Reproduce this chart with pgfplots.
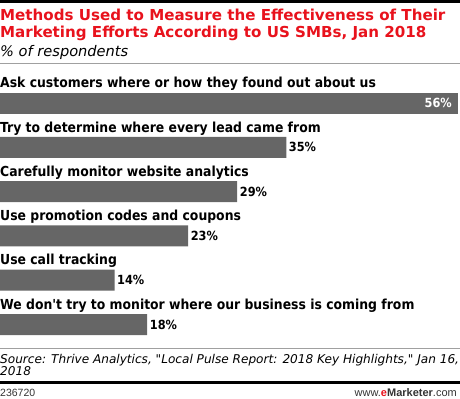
\documentclass[border=0pt]{standalone}
\usepackage{pgfplots}
\pgfplotsset{compat=1.18}
\usepackage{fontspec}
\setmainfont{DejaVu Sans}
\newfontfamily\cond{DejaVu Sans Condensed}
\newfontfamily\arial{Liberation Sans}
\definecolor{emred}{RGB}{232,18,28}
\definecolor{bargray}{RGB}{102,102,102}
\definecolor{rulegray}{RGB}{160,160,160}
\begin{document}
\begin{tikzpicture}
\path[use as bounding box] (0,0) rectangle (460bp,-399bp);
\fill[black] (0,0) rectangle (460bp,-2.7bp);
\node[anchor=base west, inner sep=0, text=emred, font=\bfseries\fontsize{15.1bp}{17bp}\selectfont] at (0,-20.7bp) {Methods Used to Measure the Effectiveness of Their};
\node[anchor=base west, inner sep=0, text=emred, font=\bfseries\fontsize{15.1bp}{17bp}\selectfont] at (0,-37.7bp) {Marketing Efforts According to US SMBs, Jan 2018};
\node[anchor=base west, inner sep=0, font=\itshape\fontsize{14.6bp}{16bp}\selectfont] at (0,-56.7bp) {\% of respondents};
\draw[rulegray, line width=1bp] (0,-63.5bp) -- (460bp,-63.5bp);
\begin{axis}[at={(0,-80.85bp)}, anchor=north west, scale only axis,
  width=458bp, height=265.8bp, xmin=0, xmax=56, ymin=-0.5, ymax=5.5,
  y dir=reverse, hide axis, xbar, bar width=21bp, bar shift=0pt, clip=false,
  /pgf/number format/assume math mode=true,
  nodes near coords={\pgfmathprintnumber{\pgfplotspointmeta}\%},
  point meta=x,
  nodes near coords style={font=\cond\bfseries\fontsize{12.6bp}{15bp}\selectfont, inner sep=2.5bp}]
\addplot[fill=bargray, draw=none, nodes near coords style={anchor=west}] coordinates {(35,1) (29,2) (23,3) (14,4) (18,5)};
\addplot[fill=bargray, draw=none, nodes near coords style={anchor=east, text=white, xshift=-3.5bp}] coordinates {(56,0)};
\end{axis}
\begin{scope}[every node/.style={anchor=base west, inner sep=0, font=\cond\bfseries\fontsize{13.8bp}{15bp}\selectfont}]
\node at (0,-87.5bp) {Ask customers where or how they found out about us};
\node at (0,-132bp) {Try to determine where every lead came from};
\node at (0,-176.3bp) {Carefully monitor website analytics};
\node at (0,-220.4bp) {Use promotion codes and coupons};
\node at (0,-264.7bp) {Use call tracking};
\node at (0,-309bp) {We don\textquotesingle t try to monitor where our business is coming from};
\end{scope}
\draw[rulegray, line width=1bp] (0,-348bp) -- (460bp,-348bp);
\node[anchor=base west, inner sep=0, font=\itshape\fontsize{12.1bp}{14bp}\selectfont] at (0,-363bp) {Source: Thrive Analytics, \textquotedbl Local Pulse Report: 2018 Key Highlights,\textquotedbl\ Jan 16,};
\node[anchor=base west, inner sep=0, font=\itshape\fontsize{12.1bp}{14bp}\selectfont] at (0,-375.5bp) {2018};
\fill[black] (0,-381bp) rectangle (460bp,-383.5bp);
\node[anchor=base west, inner sep=0, font=\arial\fontsize{10.5bp}{12bp}\selectfont, text=black!80] at (0,-396bp) {236720};
\node[anchor=base east, inner sep=0, font=\arial\fontsize{11bp}{12bp}\selectfont, text=black!80] at (457bp,-396bp) {www.{\bfseries\color{emred}e}{\bfseries Marketer}.com};
\end{tikzpicture}
\end{document}
